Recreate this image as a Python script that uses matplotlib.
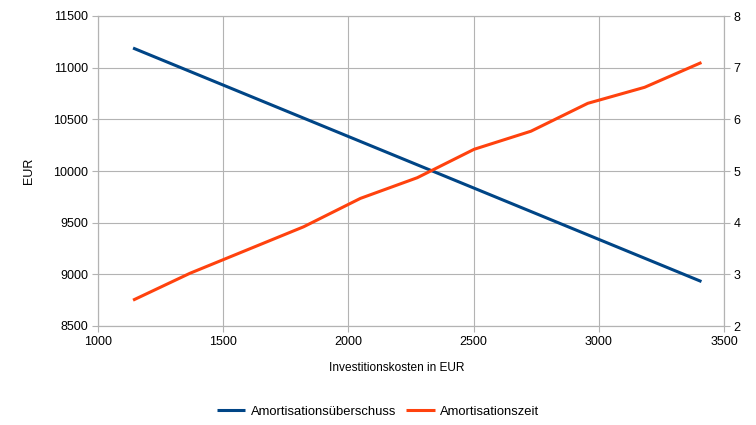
import matplotlib
matplotlib.use("Agg")
import matplotlib.pyplot as plt
from matplotlib.ticker import MultipleLocator

plt.rcParams['font.family'] = ['Liberation Sans', 'DejaVu Sans']

invest = [1140, 1367, 1594, 1821, 2048, 2275, 2502, 2729, 2956, 3183, 3410]
ueberschuss = [11190, 10964, 10738, 10512, 10286, 10060, 9834, 9608, 9382, 9156, 8930]
zeit = [2.50, 3.02, 3.47, 3.92, 4.47, 4.87, 5.42, 5.77, 6.31, 6.62, 7.10]

grid_c = '#b3b3b3'
blue = '#004586'
orange = '#ff420e'
fs = 9

fig = plt.figure(figsize=(7.56, 4.25), dpi=100)
ax = fig.add_axes([98/756, 1-326/425, (724-98)/756, (326-16)/425])
ax2 = ax.twinx()

l1, = ax.plot(invest, ueberschuss, color=blue, lw=2.2, label='Amortisationsüberschuss', solid_capstyle='butt')
l2, = ax2.plot(invest, zeit, color=orange, lw=2.2, label='Amortisationszeit', solid_capstyle='butt')

ax.set_xlim(1000, 3500)
ax.set_ylim(8500, 11500)
ax2.set_ylim(2, 8)
ax.xaxis.set_major_locator(MultipleLocator(500))
ax.yaxis.set_major_locator(MultipleLocator(500))
ax2.yaxis.set_major_locator(MultipleLocator(1))

ax.grid(True, color=grid_c, lw=0.8)
ax.set_axisbelow(True)
for a in (ax, ax2):
    for s in a.spines.values():
        s.set_color(grid_c)
        s.set_linewidth(0.8)
    a.tick_params(colors=grid_c, labelcolor='black', labelsize=fs, length=4, width=0.8, pad=3)

ax.set_ylabel('EUR', fontsize=fs, labelpad=13)
ax.set_xlabel('Investitionskosten in EUR', fontsize=8.6)
ax.xaxis.set_label_coords((397-98)/626, -(368-326)/310, transform=ax.transAxes)
ax.xaxis.label.set_va('center')

fig.legend(handles=[l1, l2], loc='center', bbox_to_anchor=(0.5, 1-412/425), ncol=2,
           frameon=False, fontsize=9.4, handlelength=2.2, handletextpad=0.4, columnspacing=0.8)

fig.savefig('out.png', dpi=100)
